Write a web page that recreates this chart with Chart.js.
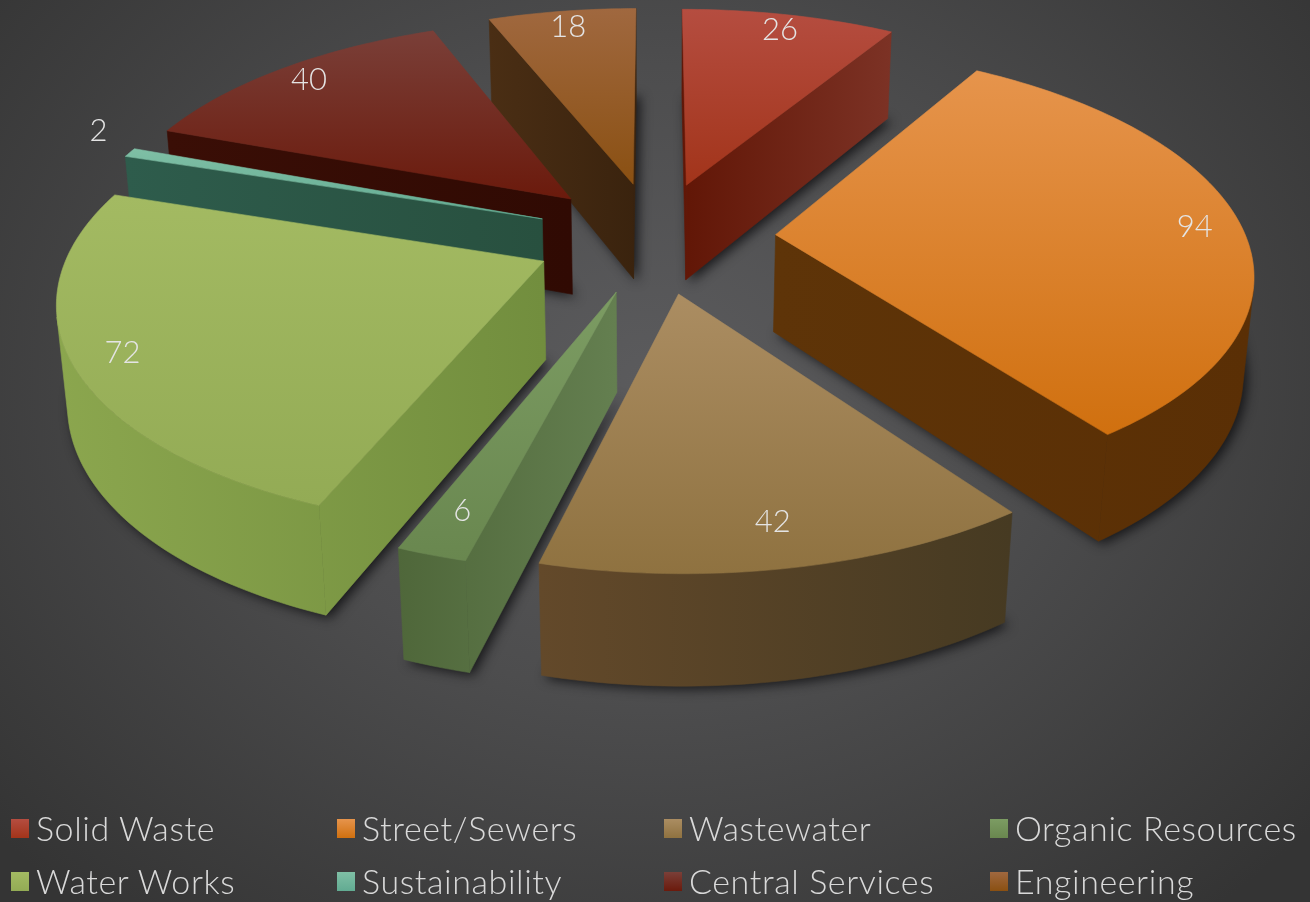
<!DOCTYPE html>
<html>
<head>
<meta charset="utf-8">
<title>3D pie</title>
<script src="https://cdn.jsdelivr.net/npm/chart.js@4"></script>
<style>
  html, body { margin: 0; padding: 0; }
  body {
    width: 1310px; height: 902px; overflow: hidden; position: relative;
    background: radial-gradient(ellipse 860px 700px at 650px 380px, #5b5b5d 0%, #4d4d4e 45%, #343434 100%);
  }
  canvas { position: absolute; left: 0; top: 0; }
  #legend { position: absolute; left: 0; top: 0; width: 1310px; height: 902px; }
  .item {
    position: absolute; white-space: nowrap; color: #d9d9d9;
    font: 300 34px Lato, sans-serif; letter-spacing: 0.6px; line-height: 40px; padding-left: 25px;
  }
  .item i { position: absolute; left: 0; top: 11px; width: 18px; height: 19px; }
</style>
</head>
<body>
<canvas id="pie" width="1310" height="902"></canvas>
<div id="legend"></div>
<script>
// chart data
const categories = ['Solid Waste', 'Street/Sewers', 'Wastewater', 'Organic Resources',
  'Water Works', 'Sustainability', 'Central Services', 'Engineering'];
const values = [26, 94, 42, 6, 72, 2, 40, 18];

// top face gradient (far, near), side wall colours (left, right)
const topFar = ['#b54d40', '#e6944c', '#ab8d62', '#7c9c63', '#a3ba62', '#7fbfa5', '#7a3f38', '#a0683f'];
const topNear = ['#a2341a', '#d0700f', '#8f7240', '#69874f', '#93ab55', '#62ab92', '#6b1a0c', '#8a5012'];
const wallLeft = ['#611606', '#5e3408', '#63492a', '#4f673a', '#8ba64e', '#2e5c4c', '#3a0e06', '#4a2e14'];
const wallRight = ['#7c3225', '#5a2f05', '#463a22', '#647f50', '#728e3e', '#28503f', '#300a03', '#3a230e'];

// projection settings
const perspective = 0.153, tilt = 0.462, explode = 0.257;
const depth = 99, bottomShrink = 0.018, sizeRatio = 1.043, liftCenter = 214;

// map a point on the pie plane to the screen; z is 0 on top, 1 at the bottom
function project(arc, u, v, z) {
  const size = arc.outerRadius * sizeRatio;
  const w = 1 + perspective * v + bottomShrink * z;
  return {
    x: arc.x + size * u / w,
    y: arc.y - liftCenter - size * tilt * v / w + depth * z / w
  };
}

function slicePoints(arc, z) {
  const a0 = arc.startAngle + Math.PI / 2, a1 = arc.endAngle + Math.PI / 2;
  const mid = (a0 + a1) / 2;
  const ox = explode * Math.sin(mid), oy = explode * Math.cos(mid);
  const rim = [];
  const steps = Math.max(4, Math.ceil((a1 - a0) / 0.02));
  for (let i = 0; i <= steps; i++) {
    const a = a0 + (a1 - a0) * i / steps;
    rim.push(project(arc, ox + Math.sin(a), oy + Math.cos(a), z));
  }
  return { tip: project(arc, ox, oy, z), rim: rim };
}

function polygon(ctx, pts) {
  ctx.beginPath();
  pts.forEach((p, i) => i ? ctx.lineTo(p.x, p.y) : ctx.moveTo(p.x, p.y));
  ctx.closePath();
}

function fillPoly(ctx, pts, fill) {
  polygon(ctx, pts);
  ctx.fillStyle = fill;
  ctx.strokeStyle = fill;
  ctx.lineWidth = 0.6;
  ctx.fill();
  ctx.stroke();
}

// true when the quad faces away from the viewer
function facing(a, b, c) {
  return (b.x - a.x) * (c.y - a.y) - (b.y - a.y) * (c.x - a.x) > 0;
}

function drawSlice(ctx, arc, i) {
  const top = slicePoints(arc, 0), bot = slicePoints(arc, 1);
  const n = top.rim.length - 1;

  // soft shadow on the floor
  ctx.save();
  ctx.filter = 'blur(6px)';
  ctx.translate(4, 3);
  polygon(ctx, [bot.tip].concat(bot.rim));
  ctx.fillStyle = 'rgba(10,10,12,0.8)';
  ctx.fill();
  ctx.restore();

  const xs = top.rim.map(p => p.x).concat(top.tip.x);
  const left = Math.min.apply(null, xs), right = Math.max.apply(null, xs);
  const sideFill = ctx.createLinearGradient(left, 0, right, 0);
  sideFill.addColorStop(0, wallLeft[i]);
  sideFill.addColorStop(1, wallRight[i]);

  // cut walls
  const w1 = [top.tip, top.rim[0], bot.rim[0], bot.tip];
  const w2 = [top.rim[n], top.tip, bot.tip, bot.rim[n]];
  if (!facing(w1[0], w1[1], w1[2])) fillPoly(ctx, w1, sideFill);
  if (!facing(w2[0], w2[1], w2[2])) fillPoly(ctx, w2, sideFill);

  // outer wall, one polygon over the visible part of the rim
  let first = -1, last = -1;
  for (let k = 0; k < n; k++) {
    if (!facing(top.rim[k], top.rim[k + 1], bot.rim[k + 1])) {
      if (first < 0) first = k;
      last = k + 1;
    }
  }
  if (first >= 0) {
    const wall = top.rim.slice(first, last + 1).concat(bot.rim.slice(first, last + 1).reverse());
    fillPoly(ctx, wall, sideFill);
  }

  // top face
  const ys = top.rim.map(p => p.y).concat(top.tip.y);
  const g = ctx.createLinearGradient(0, Math.min.apply(null, ys), 0, Math.max.apply(null, ys));
  g.addColorStop(0, topFar[i]);
  g.addColorStop(1, topNear[i]);
  fillPoly(ctx, [top.tip].concat(top.rim), g);
}

function drawLabel(ctx, arc, value) {
  const mid = (arc.startAngle + arc.endAngle) / 2 + Math.PI / 2;
  // tiny slices keep the label outside the rim
  const outside = value / 300 < 0.02;
  let r = outside ? 1.08 : 0.9;
  if (Math.cos(mid) < -0.9) r = 0.855;
  const p = project(arc, (explode + r) * Math.sin(mid), (explode + r) * Math.cos(mid), 0);
  ctx.fillStyle = '#e4e4e4';
  ctx.font = '300 31px Lato, sans-serif';
  ctx.textAlign = 'center';
  ctx.textBaseline = 'middle';
  ctx.fillText(String(value), p.x, p.y - (outside ? 16 : 0));
}

const pie3d = {
  id: 'pie3d',
  beforeDatasetsDraw(chart) {
    const ctx = chart.ctx;
    const arcs = chart.getDatasetMeta(0).data;
    // far slices first
    const order = arcs.map((arc, i) => i).sort((a, b) => {
      const ma = (arcs[a].startAngle + arcs[a].endAngle) / 2 + Math.PI / 2;
      const mb = (arcs[b].startAngle + arcs[b].endAngle) / 2 + Math.PI / 2;
      return Math.cos(mb) - Math.cos(ma);
    });
    order.forEach(i => drawSlice(ctx, arcs[i], i));
    arcs.forEach((arc, i) => drawLabel(ctx, arc, values[i]));
    return false;
  }
};

new Chart(document.getElementById('pie').getContext('2d'), {
  type: 'pie',
  data: {
    labels: categories,
    datasets: [{ data: values, backgroundColor: topNear, borderWidth: 0 }]
  },
  options: {
    responsive: false,
    animation: false,
    events: [],
    layout: { padding: 0 },
    plugins: { legend: { display: false }, tooltip: { enabled: false } }
  },
  plugins: [pie3d]
});

// legend in a 4 x 2 grid
const legendX = [11, 337, 664, 990], legendY = [808, 861];
categories.forEach((name, i) => {
  const item = document.createElement('div');
  item.className = 'item';
  item.style.left = legendX[i % 4] + 'px';
  item.style.top = legendY[Math.floor(i / 4)] + 'px';
  item.innerHTML = '<i style="background:linear-gradient(' + topFar[i] + ',' + topNear[i] + ')"></i>' + name;
  document.getElementById('legend').appendChild(item);
});
</script>
</body>
</html>
